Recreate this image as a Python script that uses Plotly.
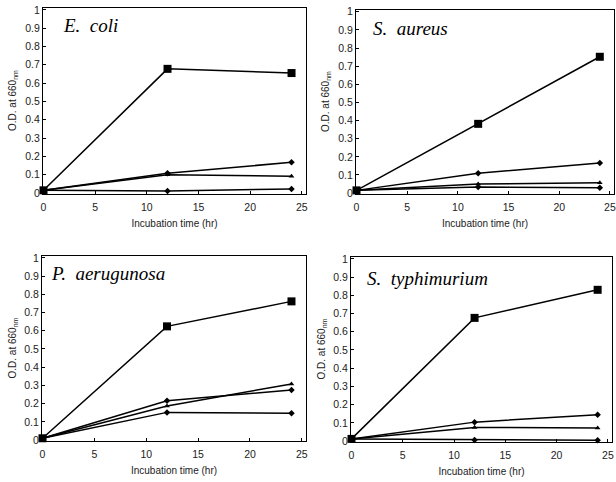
import plotly.graph_objects as go

time_hr = [0, 12, 24]
panels = ["E.&nbsp; coli", "S.&nbsp; aureus", "P.&nbsp; aerugunosa", "S.&nbsp; typhimurium"]

# series per panel: square (top), diamond, triangle, bottom diamond
ecoli_sq = [0.015, 0.678, 0.655]
ecoli_d1 = [0.015, 0.108, 0.168]
ecoli_tr = [0.015, 0.100, 0.092]
ecoli_d2 = [0.015, 0.012, 0.022]

saureus_sq = [0.015, 0.382, 0.752]
saureus_d1 = [0.015, 0.110, 0.166]
saureus_tr = [0.015, 0.050, 0.057]
saureus_d2 = [0.015, 0.033, 0.030]

paer_sq = [0.010, 0.624, 0.761]
paer_d1 = [0.010, 0.216, 0.275]
paer_tr = [0.010, 0.187, 0.308]
paer_d2 = [0.010, 0.152, 0.147]

styph_sq = [0.012, 0.676, 0.830]
styph_d1 = [0.012, 0.104, 0.145]
styph_tr = [0.012, 0.075, 0.072]
styph_d2 = [0.012, 0.006, 0.004]

panel_data = [
    (ecoli_sq, ecoli_d1, ecoli_tr, ecoli_d2),
    (saureus_sq, saureus_d1, saureus_tr, saureus_d2),
    (paer_sq, paer_d1, paer_tr, paer_d2),
    (styph_sq, styph_d1, styph_tr, styph_d2),
]

W, H = 616, 482
# plot boxes in pixels: (left, right, top, bottom)
boxes = [(43, 306, 8, 194), (356, 614, 10, 194), (42, 306, 256, 441), (351, 612, 257, 442)]
# label positions (left x, center y) in pixels
label_pos = [(61, 25), (371, 28), (49, 273), (365, 278)]

fig = go.Figure()
yticks = [0, 0.1, 0.2, 0.3, 0.4, 0.5, 0.6, 0.7, 0.8, 0.9, 1]
ytext = ["0", "0.1", "0.2", "0.3", "0.4", "0.5", "0.6", "0.7", "0.8", "0.9", "1"]

for i, (series, (l, r, t, b)) in enumerate(zip(panel_data, boxes)):
    n = i + 1
    xa = "x" if n == 1 else f"x{n}"
    ya = "y" if n == 1 else f"y{n}"
    sq, d1, tr, d2 = series
    styles = [(sq, "square", 8), (d1, "diamond", 5), (tr, "triangle-up", 5), (d2, "diamond", 5)]
    for vals, sym, sz in styles:
        fig.add_trace(go.Scatter(x=time_hr, y=vals, mode="lines+markers", xaxis=xa, yaxis=ya,
                                 line=dict(color="black", width=1.5),
                                 marker=dict(symbol=sym, size=sz, color="black"),
                                 showlegend=False, cliponaxis=False))
    axfont = dict(family="Liberation Sans, Arial", size=10.5, color="#222")
    fig.layout[f"xaxis{'' if n == 1 else n}"] = dict(
        domain=[l / W, r / W], anchor=ya, range=[-0.05, 25.4], automargin=False,
        tickvals=[0, 5, 10, 15, 20, 25], ticks="inside", ticklen=3, tickcolor="black",
        showline=True, linecolor="black", linewidth=1, mirror=True, showgrid=False,
        zeroline=False, tickfont=axfont, ticklabelstandoff=3,
        title=dict(text="Incubation time (hr)", font=dict(family="Liberation Sans, Arial", size=10, color="#222"), standoff=8))
    fig.layout[f"yaxis{'' if n == 1 else n}"] = dict(
        domain=[1 - b / H, 1 - t / H], anchor=xa, range=[-0.005, 1.01], automargin=False,
        tickvals=yticks, ticktext=ytext, ticks="inside", ticklen=3, tickcolor="black",
        showline=True, linecolor="black", linewidth=1, mirror=True, showgrid=False,
        zeroline=False, tickfont=axfont)
    fig.add_annotation(x=(l - 30) / W, y=1 - ((t + b) / 2) / H, xref="paper", yref="paper",
                       text="O.D. at 660<sub>nm</sub>", textangle=-90, showarrow=False,
                       xanchor="center", yanchor="middle",
                       font=dict(family="Liberation Sans, Arial", size=10, color="#222"))
    lx, ly = label_pos[i]
    fig.add_annotation(x=lx / W, y=1 - ly / H, xref="paper", yref="paper",
                       text=panels[i], showarrow=False, xanchor="left", yanchor="middle",
                       font=dict(family="Liberation Serif, Times New Roman", size=19, color="black", style="italic"))

fig.update_layout(width=W, height=H, margin=dict(l=0, r=0, t=0, b=0),
                  plot_bgcolor="white", paper_bgcolor="white")
fig.write_html("out.html", config={"displayModeBar": False},
               post_script="document.body.style.margin='0';")
